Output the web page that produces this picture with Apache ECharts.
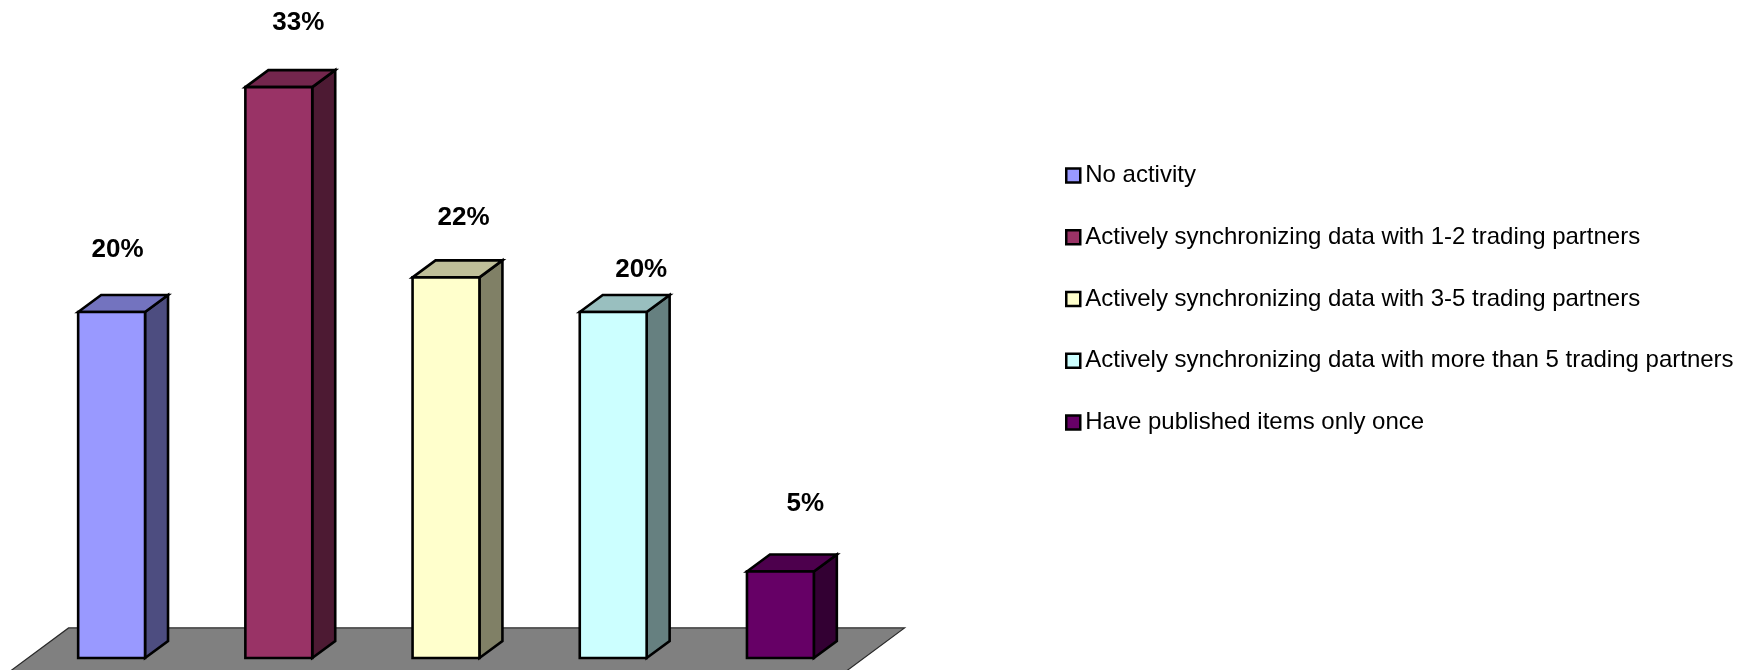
<!DOCTYPE html>
<html>
<head>
<meta charset="utf-8">
<title>Data synchronization activity</title>
<script src="https://cdn.jsdelivr.net/npm/echarts@6/dist/echarts.min.js"></script>
<style>
  html, body { margin: 0; padding: 0; background: #ffffff; }
  #chart { width: 1754px; height: 670px; }
</style>
</head>
<body>
<div id="chart"></div>
<script>
// Survey categories and the share of respondents in each (percent)
const categories = [
  'No activity',
  'Actively synchronizing data with 1-2 trading partners',
  'Actively synchronizing data with 3-5 trading partners',
  'Actively synchronizing data with more than 5 trading partners',
  'Have published items only once'
];
const shares = [20, 33, 22, 20, 5];

// Front-face colour of each column
const barColors = ['#9999FF', '#993366', '#FFFFCC', '#CCFFFF', '#660066'];

// Value labels sit above each column; small per-column nudges (px, from the front-top centre)
const labelNudge = [[6, -62], [19.5, -64], [17.5, -60], [28, -42], [25, -68]];

const FONT = '"Liberation Sans", Arial, Helvetica, sans-serif';

function shade(hex, f) {
  const n = parseInt(hex.slice(1), 16);
  const r = Math.round(((n >> 16) & 255) * f);
  const g = Math.round(((n >> 8) & 255) * f);
  const b = Math.round((n & 255) * f);
  return 'rgb(' + r + ',' + g + ',' + b + ')';
}

// Depth of the pseudo-3D extrusion, relative to the category band width
const DEPTH_X = 0.1375;
const DEPTH_SLOPE = 0.74;

function renderColumn(params, api) {
  const cat = api.value(0);
  const v = api.value(1);
  const base = api.coord([cat, 0]);
  const top = api.coord([cat, v]);
  const band = api.size([1, 0])[0];
  const w = band * 0.4;
  const dx = band * DEPTH_X;
  const dy = dx * DEPTH_SLOPE;
  const x0 = base[0] - w / 2;
  const x1 = base[0] + w / 2;
  const yb = base[1];
  const yt = top[1];
  const color = barColors[cat];
  const edge = { stroke: '#000000', lineWidth: 2.6, lineJoin: 'miter' };
  const nudge = labelNudge[cat];
  return {
    type: 'group',
    children: [
      {
        type: 'polygon',
        shape: { points: [[x1, yb], [x1 + dx, yb - dy], [x1 + dx, yt - dy], [x1, yt]] },
        style: Object.assign({ fill: shade(color, 0.5) }, edge)
      },
      {
        type: 'polygon',
        shape: { points: [[x0, yt], [x0 + dx, yt - dy], [x1 + dx, yt - dy], [x1, yt]] },
        style: Object.assign({ fill: shade(color, 0.75) }, edge)
      },
      {
        type: 'rect',
        shape: { x: x0, y: yt, width: w, height: yb - yt },
        style: Object.assign({ fill: color }, edge)
      },
      {
        type: 'text',
        style: {
          text: v + '%',
          x: base[0] + nudge[0],
          y: yt + nudge[1],
          fill: '#000000',
          fontSize: 26,
          fontWeight: 'bold',
          fontFamily: FONT,
          align: 'center',
          verticalAlign: 'middle'
        }
      }
    ]
  };
}

// Grey floor plane under the columns, spanning the whole category range
function renderFloor(params, api) {
  const cs = params.coordSys;
  const base = api.coord([0, 0]);
  const band = api.size([1, 0])[0];
  const dx = band * DEPTH_X;
  const dy = dx * DEPTH_SLOPE;
  const back = 1.765, front = -0.765;
  const y = base[1];
  const left = cs.x, right = cs.x + cs.width;
  return {
    type: 'polygon',
    shape: {
      points: [
        [left + dx * back, y - dy * back],
        [right + dx * back, y - dy * back],
        [right + dx * front, y - dy * front],
        [left + dx * front, y - dy * front]
      ]
    },
    style: { fill: '#808080', stroke: '#2a2a2a', lineWidth: 1.2 }
  };
}

const series = [{
  name: 'floor',
  type: 'custom',
  renderItem: renderFloor,
  data: [[0, 0]],
  encode: { x: 0, y: 1 },
  silent: true,
  z: 1
}];
categories.forEach(function (name, i) {
  series.push({
    name: name,
    type: 'custom',
    renderItem: renderColumn,
    data: [[i, shares[i]]],
    encode: { x: 0, y: 1 },
    itemStyle: { color: barColors[i], borderColor: '#000000', borderWidth: 2.5 },
    z: 2
  });
});

const chart = echarts.init(document.getElementById('chart'), null, { renderer: 'canvas' });
chart.setOption({
  animation: false,
  backgroundColor: '#ffffff',
  grid: { left: 28, right: 890, top: 52.5, bottom: 12, containLabel: false },
  xAxis: { type: 'category', data: categories, show: false },
  yAxis: { type: 'value', min: 0, max: 35, show: false },
  legend: {
    data: categories,
    orient: 'vertical',
    left: 1065,
    top: 163.5,
    padding: 0,
    itemWidth: 14,
    itemHeight: 14,
    itemGap: 37.75,
    icon: 'rect',
    selectedMode: false,
    itemStyle: { borderColor: '#000000', borderWidth: 2.5 },
    textStyle: { fontSize: 24, lineHeight: 24, color: '#000000', fontFamily: FONT }
  },
  series: series
});
</script>
</body>
</html>
